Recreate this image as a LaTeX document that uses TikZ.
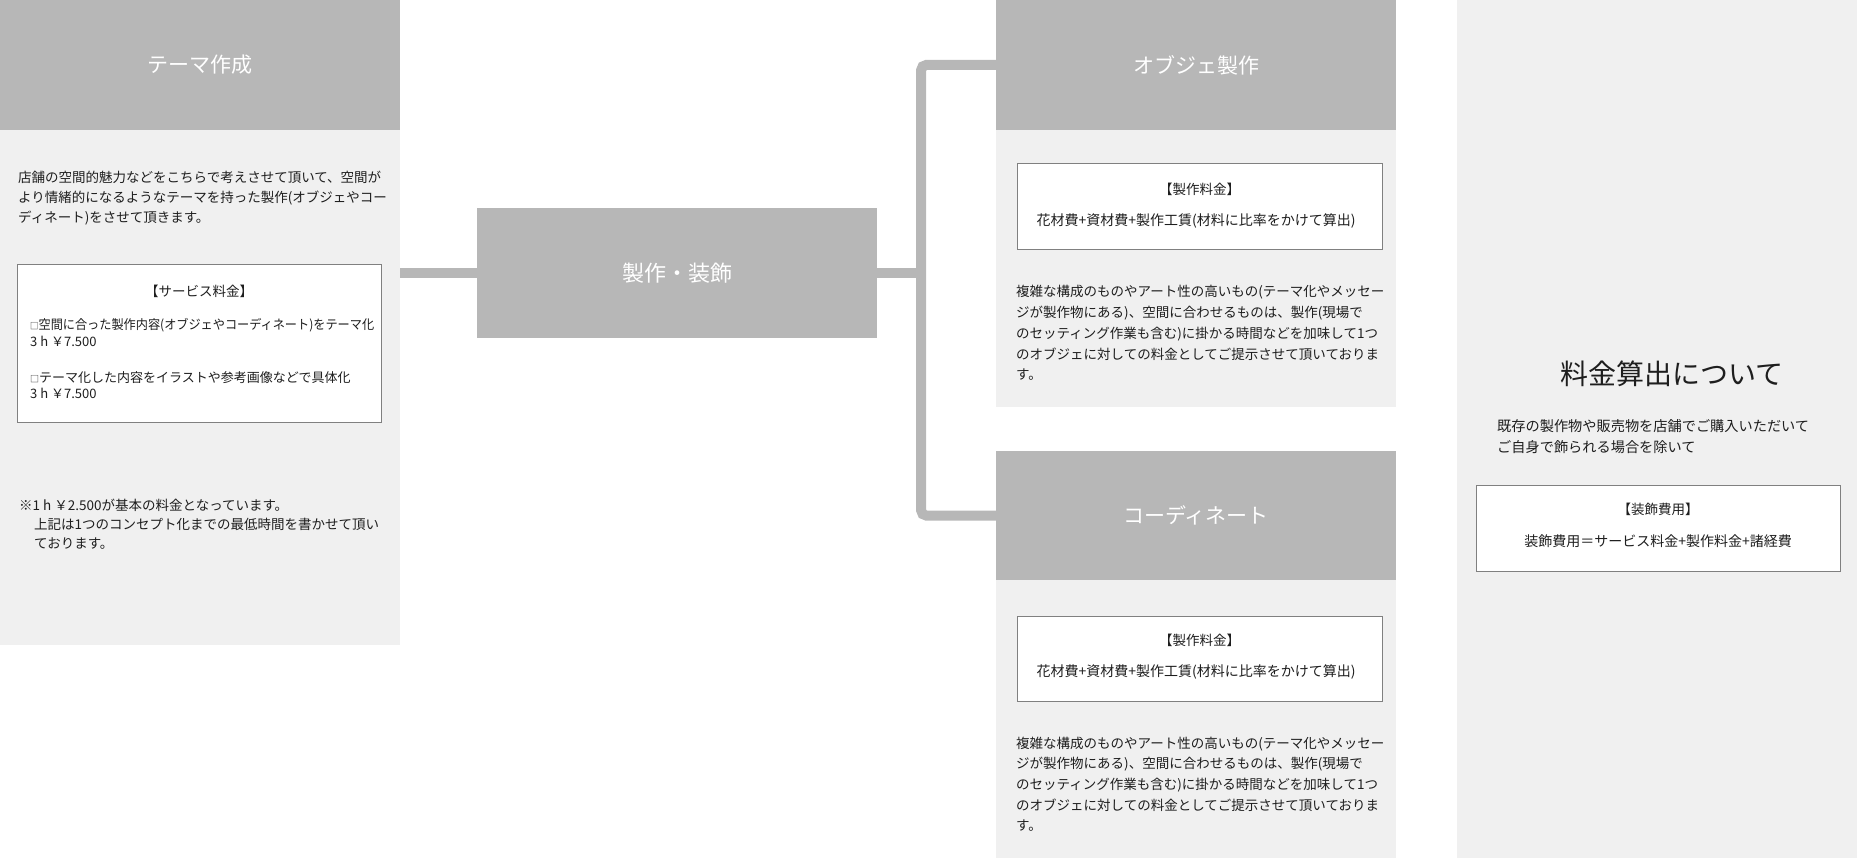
\documentclass[tikz,border=0pt]{standalone}
\usepackage{fontspec}
\setmainfont{Noto Sans CJK JP}
\definecolor{hdrgray}{HTML}{B7B7B7}
\definecolor{bodygray}{HTML}{F0F0F0}
\definecolor{boxborder}{HTML}{808080}
\definecolor{txtcol}{HTML}{1E1E1E}
\tikzset{
  hdr/.style={fill=hdrgray, draw=none, inner sep=0, minimum width=400pt, text=white, font=\fontsize{21}{21}\selectfont},
  bodybg/.style={fill=bodygray, draw=none, inner sep=0, minimum width=400pt},
  pricebox/.style={draw=boxborder, line width=1pt, fill=white, inner sep=0},
  txt/.style={inner sep=0, anchor=base west, text=txtcol, font=\fontsize{13.5}{20}\selectfont},
  ctxt/.style={txt, anchor=base},
  conn/.style={draw=hdrgray, line width=10pt},
}
\newcommand{\sq}{{\fontsize{9}{9}\selectfont □}}
\begin{document}
\begin{tikzpicture}[x=1pt,y=-1pt]
\useasboundingbox (0,0) rectangle (1857,858);
% backgrounds
\node[bodybg, minimum height=515pt] (themeb) at (200,387.5) {};
\node[hdr, minimum height=130pt] (themeh) at (200,65) {テーマ作成};
\node[bodybg, minimum height=277pt] (objb) at (1196,268.5) {};
\node[hdr, minimum height=130pt] (objh) at (1196,65) {オブジェ製作};
\node[bodybg, minimum height=278pt] (coob) at (1196,719) {};
\node[hdr, minimum height=129pt] (cooh) at (1196,515.5) {コーディネート};
\node[bodybg, minimum height=858pt] (rightb) at (1657,429) {};
\node[hdr, minimum height=130pt, font=\fontsize{22}{22}\selectfont] (mid) at (677,273) {製作・装飾};
% connectors
\draw[conn] (mid.west) -- (mid.west -| themeb.east);
\path (mid.east) ++(44,0) coordinate (junc);
\draw[conn] (mid.east) -- (junc);
\draw[conn, rounded corners=5pt] (objh.west) -| (junc) |- (cooh.west);
% left panel text
\node[txt] (l1) at (18,183) {店舗の空間的魅力などをこちらで考えさせて頂いて、空間が};
\node[txt] (l2) at (18,203) {より情緒的になるようなテーマを持った製作(オブジェやコー};
\node[txt] (l3) at (18,223) {ディネート)をさせて頂きます。};
\node[pricebox, minimum width=364pt, minimum height=157pt] (svc) at (199,343.5) {};
\node[ctxt] (svct) at (199,297) {【サービス料金】};
\node[txt, font=\fontsize{13}{20}\selectfont] (s1) at (30,330) {\scalebox{0.935}[1]{\sq 空間に合った製作内容(オブジェやコーディネート)をテーマ化}};
\node[txt, font=\fontsize{13}{20}\selectfont] (s2) at (30,347) {3 h ￥7.500};
\node[txt, font=\fontsize{13}{20}\selectfont] (s3) at (30,382) {\sq テーマ化した内容をイラストや参考画像などで具体化};
\node[txt, font=\fontsize{13}{20}\selectfont] (s4) at (30,398) {3 h ￥7.500};
\node[txt] (n1) at (19,510) {※1 h ￥2.500が基本の料金となっています。};
\node[txt] (n2) at (34,529) {上記は1つのコンセプト化までの最低時間を書かせて頂い};
\node[txt] (n3) at (34,548) {ております。};
% object panel
\node[pricebox, minimum width=365pt, minimum height=86pt] (objp) at (1199.5,207) {};
\node[ctxt] (objpt) at (1199.5,195) {【製作料金】};
\node[ctxt, font=\fontsize{14}{20}\selectfont] (objpf) at (1196,226) {花材費+資材費+製作工賃(材料に比率をかけて算出)};
\node[txt] (o1) at (1016,297) {複雑な構成のものやアート性の高いもの(テーマ化やメッセー};
\node[txt] (o2) at (1016,317.7) {ジが製作物にある)、空間に合わせるものは、製作(現場で};
\node[txt] (o3) at (1016,338.4) {のセッティング作業も含む)に掛かる時間などを加味して1つ};
\node[txt] (o4) at (1016,359.1) {のオブジェに対しての料金としてご提示させて頂いておりま};
\node[txt] (o5) at (1016,379.8) {す。};
% coordinate panel
\node[pricebox, minimum width=365pt, minimum height=85pt] (coop) at (1199.5,658.5) {};
\node[ctxt] (coopt) at (1199.5,645) {【製作料金】};
\node[ctxt, font=\fontsize{14}{20}\selectfont] (coopf) at (1196,676) {花材費+資材費+製作工賃(材料に比率をかけて算出)};
\node[txt] (c1) at (1016,748) {複雑な構成のものやアート性の高いもの(テーマ化やメッセー};
\node[txt] (c2) at (1016,768.7) {ジが製作物にある)、空間に合わせるものは、製作(現場で};
\node[txt] (c3) at (1016,789.4) {のセッティング作業も含む)に掛かる時間などを加味して1つ};
\node[txt] (c4) at (1016,810.1) {のオブジェに対しての料金としてご提示させて頂いておりま};
\node[txt] (c5) at (1016,830.8) {す。};
% right panel
\node[ctxt, font=\fontsize{28}{28}\selectfont] (rt) at (1672,384) {料金算出について};
\node[txt, font=\fontsize{14.2}{20}\selectfont] (r1) at (1497,431) {既存の製作物や販売物を店舗でご購入いただいて};
\node[txt, font=\fontsize{14.2}{20}\selectfont] (r2) at (1497,452) {ご自身で飾られる場合を除いて};
\node[pricebox, minimum width=364pt, minimum height=86pt] (rp) at (1658,528) {};
\node[ctxt] (rpt) at (1658,514) {【装飾費用】};
\node[ctxt, font=\fontsize{14}{20}\selectfont] (rpf) at (1658,546) {装飾費用＝サービス料金+製作料金+諸経費};
\end{tikzpicture}
\end{document}
